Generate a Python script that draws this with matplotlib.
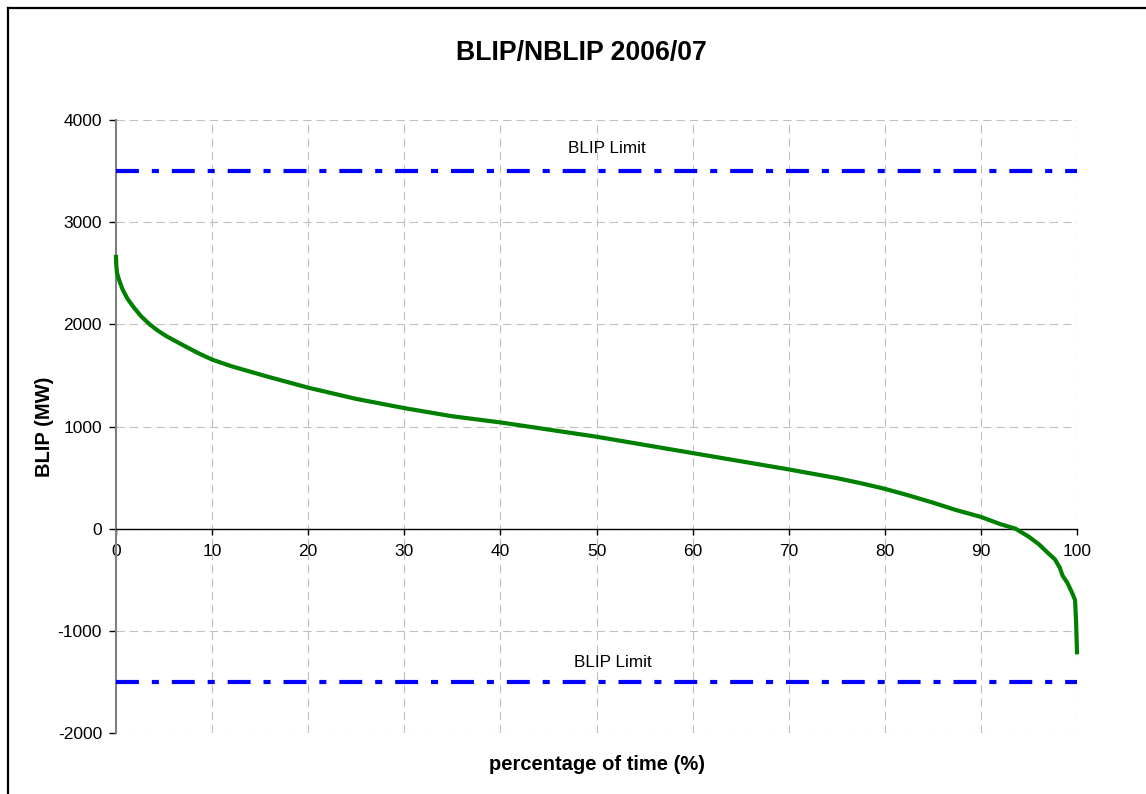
import matplotlib
matplotlib.use("Agg")
import matplotlib.pyplot as plt
from matplotlib.lines import Line2D

plt.rcParams['font.family'] = ['Liberation Sans', 'DejaVu Sans']

# ---- data ----
pct = [0, 0.03, 0.1, 0.3, 0.7, 1.2, 1.8, 2.6, 3.5, 4.4, 5.3, 6.9, 8.4, 10, 12,
       15.7, 20, 25, 30, 35, 40, 45, 50, 55, 60, 65, 70, 75, 77.5, 80, 82.5,
       85, 87.5, 90, 92, 93.6, 95, 96, 97, 97.7, 98.2, 98.5, 99, 99.5, 99.8,
       99.9, 100]
blip = [2660, 2580, 2505, 2440, 2338, 2250, 2172, 2080, 2000, 1935, 1881, 1800,
        1725, 1655, 1590, 1490, 1380, 1270, 1180, 1100, 1040, 970, 900, 820,
        740, 660, 580, 495, 445, 390, 325, 255, 180, 115, 45, 0, -80, -150,
        -240, -300, -380, -460, -530, -630, -700, -900, -1210]
limits = [3500, -1500]
limit_labels = ["BLIP Limit", "BLIP Limit"]
limit_label_pos = [(51.1, 3720), (51.7, -1310)]
xticks = list(range(0, 101, 10))
yticks = list(range(-2000, 4001, 1000))

title = "BLIP/NBLIP 2006/07"
xlabel = "percentage of time (%)"
ylabel = "BLIP (MW)"

# ---- figure ----
W, H = 1146, 794
fig = plt.figure(figsize=(W / 100, H / 100), dpi=100)
ax = fig.add_axes([116 / W, 1 - 733 / H, (1077 - 116) / W, (733 - 120) / H])

ax.set_xlim(0, 100)
ax.set_ylim(-2000, 4000)

# grid
for y in yticks:
    ax.axhline(y, color='#c0c0c0', lw=0.8, dashes=(7.5, 4.5), zorder=0)
for x in xticks[1:]:
    ax.axvline(x, color='#c0c0c0', lw=0.8, dashes=(7.5, 4.5), zorder=0)

# limits
for lim in limits:
    ax.plot([0, 100], [lim, lim], color='#0000ff', lw=3.0,
            dashes=(5.5, 3.1, 1.7, 3.1), solid_capstyle='butt',
            dash_capstyle='butt', zorder=3)
for lab, (lx, ly) in zip(limit_labels, limit_label_pos):
    ax.text(lx, ly, lab, ha='center', va='center', fontsize=12.3, color='black')

# curve
ax.plot(pct, blip, color='#008000', lw=3.0, zorder=4, solid_joinstyle='round',
        clip_on=False)

# spines
ax.spines['top'].set_visible(False)
ax.spines['right'].set_visible(False)
ax.spines['bottom'].set_position(('data', 0))
ax.spines['bottom'].set_color('black')
ax.spines['bottom'].set_linewidth(1.0)
ax.spines['left'].set_color('#808080')
ax.spines['left'].set_linewidth(1.5)

ax.set_xticks(xticks)
ax.set_yticks(yticks)
ax.set_xticklabels([str(t) for t in xticks])
ax.set_yticklabels([str(t) for t in yticks])
ax.tick_params(axis='x', direction='out', length=4, width=1, pad=7,
               labelsize=12.5, colors='black')
ax.tick_params(axis='y', direction='out', length=5, width=1, pad=5,
               labelsize=12.5, colors='black')

# labels
fig.text(581 / W, 1 - 53 / H, title, ha='center', va='center',
         fontsize=19.2, fontweight='bold')
fig.text(597 / W, 1 - 765 / H, xlabel, ha='center', va='center',
         fontsize=14.5, fontweight='bold')
fig.text(45 / W, 1 - 427 / H, ylabel, ha='center', va='center',
         fontsize=14.5, fontweight='bold', rotation=90)

# figure border (left and top)
fig.add_artist(Line2D([7.5 / W, 7.5 / W], [0, 1 - 7.5 / H], color='black',
                      lw=1.6, transform=fig.transFigure))
fig.add_artist(Line2D([7.5 / W, 1], [1 - 7.5 / H, 1 - 7.5 / H], color='black',
                      lw=1.6, transform=fig.transFigure))

fig.savefig("out.png", dpi=100)
